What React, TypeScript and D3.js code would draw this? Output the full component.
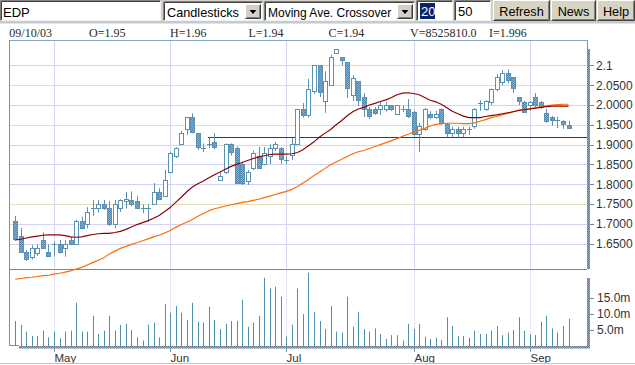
import React from "react";
import * as d3 from "d3";

// ---------------- DATA ----------------
const opens = [1.708,1.669,1.628,1.617,1.627,1.659,1.630,1.645,1.648,1.638,
 1.659,1.648,1.708,1.699,1.736,1.739,1.749,1.739,1.699,1.739,
 1.758,1.760,1.758,1.739,1.739,1.749,1.780,1.770,1.830,1.870,
 1.901,1.939,1.969,1.929,1.890,1.899,1.907,1.811,1.830,1.901,
 1.892,1.850,1.808,1.840,1.871,1.850,1.871,1.891,1.891,1.861,
 1.873,1.901,1.989,1.974,2.035,2.100,2.010,2.050,2.131,2.121,
 2.109,2.026,2.060,2.020,1.989,1.989,1.989,1.991,1.999,1.978,
 1.990,1.989,1.982,1.928,1.940,1.977,1.970,1.989,1.952,1.929,
 1.939,1.929,1.938,1.947,2.003,1.989,2.008,2.040,2.059,2.080,
 2.070,2.019,2.008,2.000,2.019,2.008,1.980,1.970,1.961,1.960,
 1.950];
const highs = [1.720,1.689,1.634,1.646,1.648,1.678,1.648,1.655,1.659,1.659,
 1.667,1.710,1.718,1.742,1.760,1.760,1.760,1.757,1.760,1.762,
 1.780,1.782,1.770,1.749,1.749,1.803,1.790,1.836,1.882,1.893,
 1.934,1.970,1.979,1.929,1.903,1.918,1.929,1.830,1.903,1.903,
 1.895,1.855,1.836,1.885,1.894,1.894,1.901,1.907,1.894,1.870,
 1.916,1.990,2.005,2.066,2.100,2.100,2.085,2.127,2.141,2.121,
 2.109,2.075,2.060,2.030,1.995,1.995,2.007,2.007,2.000,2.000,
 1.998,2.015,1.985,1.955,1.992,1.985,1.985,1.992,1.955,1.945,
 1.945,1.945,1.945,1.992,2.012,2.012,2.042,2.078,2.088,2.090,
 2.070,2.020,2.010,2.010,2.030,2.010,1.990,1.972,1.970,1.962,
 1.960];
const lows = [1.657,1.628,1.606,1.610,1.619,1.637,1.618,1.618,1.625,1.617,
 1.646,1.648,1.686,1.689,1.720,1.728,1.735,1.694,1.689,1.730,
 1.739,1.745,1.739,1.727,1.705,1.749,1.760,1.770,1.828,1.866,
 1.899,1.925,1.928,1.887,1.881,1.891,1.888,1.811,1.826,1.872,
 1.800,1.798,1.798,1.835,1.840,1.848,1.851,1.884,1.851,1.851,
 1.861,1.899,1.968,1.968,2.028,2.020,1.980,2.048,2.129,2.100,
 2.018,2.010,1.998,1.970,1.965,1.975,1.975,1.983,1.985,1.975,
 1.982,1.967,1.920,1.881,1.935,1.965,1.965,1.950,1.918,1.918,
 1.918,1.918,1.925,1.940,1.985,1.985,2.000,2.035,2.050,2.055,
 2.030,2.000,1.980,1.985,1.995,1.990,1.955,1.948,1.942,1.940,
 1.940];
const closes = [1.661,1.630,1.610,1.638,1.638,1.640,1.619,1.648,1.630,1.648,
 1.648,1.708,1.689,1.729,1.739,1.749,1.741,1.699,1.749,1.760,
 1.762,1.750,1.741,1.740,1.741,1.780,1.762,1.811,1.880,1.891,
 1.929,1.969,1.931,1.893,1.891,1.901,1.893,1.821,1.901,1.882,
 1.802,1.802,1.830,1.880,1.842,1.880,1.891,1.901,1.863,1.862,
 1.902,1.989,1.974,2.040,2.100,2.033,2.060,2.121,2.141,2.113,
 2.043,2.068,2.012,1.991,1.972,1.981,1.999,1.999,1.991,1.999,
 1.991,1.972,1.928,1.948,1.989,1.970,1.977,1.954,1.930,1.939,
 1.929,1.939,1.939,1.989,2.005,2.010,2.040,2.070,2.080,2.063,
 2.042,2.010,1.983,2.008,2.000,1.994,1.960,1.962,1.960,1.952,
 1.941];
// volumes in millions
const volumes = [7.8,6.6,4.5,3.1,3.1,4.8,2.7,4.5,2.4,4.5,
 4.8,13.5,4.5,4.5,9.4,3.75,4.8,9.4,4.8,6.6,
 6.9,5.0,2.7,1.7,6.6,7.3,2.7,13.1,10.4,12.5,
 10.4,8.1,13.5,7.6,7.3,12.3,8.1,5.3,6.9,7.8,
 7.8,14.4,6.0,7.3,9.4,21.3,18.0,18.5,15.4,2.9,
 6.6,18.0,10.0,22.9,10.6,7.8,5.3,12.5,4.5,4.2,
 15.4,6.0,10.7,5.3,4.5,5.5,3.75,2.2,3.4,3.4,
 1.7,6.9,5.3,6.9,2.9,2.2,2.6,1.9,9.0,6.25,
 3.1,3.1,2.6,4.8,3.75,3.75,4.8,6.25,3.4,4.2,
 5.0,9.0,4.7,3.75,3.4,7.6,9.4,5.5,4.2,6.25,
 8.5];
const ma20 = [1.659,1.661,1.664,1.667,1.669,1.671,1.672,1.672,1.672,1.670,
 1.667,1.666,1.667,1.670,1.673,1.675,1.676,1.676,1.678,1.681,
 1.686,1.692,1.698,1.703,1.708,1.714,1.721,1.731,1.741,1.754,
 1.767,1.781,1.793,1.801,1.808,1.816,1.824,1.831,1.838,1.845,
 1.850,1.855,1.860,1.865,1.869,1.872,1.875,1.876,1.876,1.876,
 1.877,1.880,1.887,1.897,1.907,1.919,1.929,1.938,1.950,1.961,
 1.973,1.983,1.990,1.994,2.000,2.004,2.009,2.013,2.019,2.026,
 2.030,2.031,2.029,2.026,2.019,2.012,2.008,2.002,1.993,1.984,
 1.978,1.972,1.968,1.968,1.968,1.971,1.973,1.975,1.978,1.980,
 1.983,1.986,1.988,1.990,1.992,1.994,1.996,1.997,1.997,1.997,
 1.997];
const ma50 = [1.560,1.562,1.564,1.565,1.567,1.569,1.570,1.573,1.575,1.578,
 1.581,1.586,1.590,1.596,1.602,1.608,1.614,1.624,1.631,1.638,
 1.643,1.648,1.652,1.657,1.662,1.667,1.671,1.677,1.683,1.691,
 1.698,1.704,1.711,1.719,1.726,1.733,1.738,1.741,1.745,1.748,
 1.751,1.754,1.756,1.759,1.762,1.766,1.770,1.774,1.778,1.782,
 1.787,1.794,1.803,1.812,1.822,1.831,1.840,1.849,1.856,1.863,
 1.870,1.877,1.882,1.885,1.890,1.895,1.900,1.905,1.910,1.915,
 1.921,1.926,1.931,1.936,1.941,1.947,1.951,1.953,1.954,1.954,
 1.954,1.953,1.953,1.955,1.959,1.963,1.968,1.971,1.975,1.979,
 1.983,1.987,1.989,1.991,1.993,1.996,1.998,2.000,2.001,2.002,
 2.002];

const priceTicks = [2.1, 2.05, 2.0, 1.95, 1.9, 1.85, 1.8, 1.75, 1.7, 1.65];
const priceTickLabels = ["2.1", "2.0500", "2.0000", "1.9500", "1.9000", "1.8500", "1.8000", "1.7500", "1.7000", "1.6500"];
const volTicks = [15, 10, 5];
const volTickLabels = ["15.0m", "10.0m", "5.0m"];
const monthLabels = ["May", "Jun", "Jul", "Aug", "Sep"];
const monthStartIdx = [7, 28, 49, 72, 93];
const supportLevel = 1.918;
const supportStartIdx = 35;

const symbol = "EDP";
const chartType = "Candlesticks";
const studyType = "Moving Ave. Crossover";
const period1 = "20";
const period2 = "50";
const buttonLabels = ["Refresh", "News", "Help"];
const infoTexts = ["09/10/03", "O=1.95", "H=1.96", "L=1.94", "C=1.94", "V=8525810.0", "I=1.996"];

// ---------------- STYLE ----------------
const CANDLE = "#5b91b2";
const RED = "#8e0000";
const ORANGE = "#ff6a00";
const SANS = "Arial, 'Liberation Sans', sans-serif";
const SERIF = "'Times New Roman', 'Liberation Serif', serif";

function Sunken({ x, y, w, h }: { x: number; y: number; w: number; h: number }) {
  return (
    <g>
      <rect x={x} y={y} width={w} height={h} fill="#fff" />
      <path d={`M${x + 0.5},${y + h} V${y + 0.5} H${x + w}`} stroke="#808080" fill="none" />
      <path d={`M${x + 1.5},${y + h - 1} V${y + 1.5} H${x + w - 1}`} stroke="#404040" fill="none" />
      <path d={`M${x + 0.5},${y + h - 0.5} H${x + w - 0.5} V${y + 0.5}`} stroke="#f0f0f0" fill="none" />
    </g>
  );
}

function Raised({ x, y, w, h, fill }: { x: number; y: number; w: number; h: number; fill: string }) {
  return (
    <g>
      <rect x={x} y={y} width={w} height={h} fill={fill} />
      <path d={`M${x + 0.5},${y + h - 1} V${y + 0.5} H${x + w - 1}`} stroke="#ffffff" fill="none" />
      <path d={`M${x + 0.5},${y + h - 0.5} H${x + w - 0.5} V${y + 0.5}`} stroke="#404040" fill="none" />
      <path d={`M${x + 1.5},${y + h - 1.5} H${x + w - 1.5} V${y + 1.5}`} stroke="#808080" fill="none" />
    </g>
  );
}

function DropButton({ x, y }: { x: number; y: number }) {
  return (
    <g>
      <Raised x={x} y={y} w={16} h={15} fill="#d4d0c8" />
      <path d={`M${x + 4.5},${y + 6} L${x + 11.5},${y + 6} L${x + 8},${y + 10} Z`} fill="#000" />
    </g>
  );
}

export default function App() {
  const n = closes.length;
  const x = d3.scaleLinear().domain([0, n - 1]).range([15.3, 568.5]);
  const y = d3.scaleLinear().domain([1.65, 2.1]).range([243.6, 65.4]);
  const yv = d3.scaleLinear().domain([0, 15]).range([346, 298]);

  const line = d3
    .line<number>()
    .x((_, i) => x(i))
    .y((d) => y(d))
    .curve(d3.curveLinear);

  const gridColor = (i: number) => (i === 1 || i === 3 || i === 7 ? "#e2e2b8" : "#d2d2f2");

  return (
    <svg
      width={635}
      height={365}
      style={{ position: "absolute", left: 0, top: 0, display: "block" }}
      fontFamily={SANS}
    >
      <defs>
        <pattern id="dith" width="2" height="2" patternUnits="userSpaceOnUse">
          <rect width="2" height="2" fill="#86aed6" />
          <rect width="1" height="1" fill="#5288b0" />
          <rect x="1" y="1" width="1" height="1" fill="#5288b0" />
        </pattern>
        <pattern id="axdith" width="2" height="2" patternUnits="userSpaceOnUse">
          <rect width="2" height="2" fill="#a3a8ae" />
          <rect width="1" height="1" fill="#5f7488" />
          <rect x="1" y="1" width="1" height="1" fill="#6e7f8e" />
        </pattern>
      </defs>
      <rect x={0} y={0} width={635} height={365} fill="#ffffff" />

      {/* toolbar */}
      <rect x={0} y={0} width={635} height={22} fill="#d4d0c8" />
      <rect x={0} y={21.5} width={635} height={2} fill="#c4c8d0" />
      <Sunken x={0} y={0} w={161} h={21} />
      <text x={3} y={16.5} fontSize={13} fill="#000">{symbol}</text>

      <Sunken x={163} y={1} w={100} h={20} />
      <text x={167} y={16.5} fontSize={12.7} fill="#000">{chartType}</text>
      <DropButton x={245} y={4} />

      <Sunken x={264} y={1} w={151} h={20} />
      <text x={268} y={16.5} fontSize={12} fill="#000">{studyType}</text>
      <DropButton x={397} y={4} />

      <Sunken x={416} y={0} w={37} h={21} />
      <rect x={420} y={3} width={15} height={16} fill="#0a246a" />
      <text x={421} y={16} fontSize={13} fill="#ffffff">{period1}</text>
      <Sunken x={454} y={0} w={37} h={21} />
      <text x={458} y={16} fontSize={13} fill="#000">{period2}</text>

      {buttonLabels.map((b, i) => {
        const bx = [493, 551, 597][i];
        const bw = [57, 45, 38][i];
        return (
          <g key={b}>
            <Raised x={bx} y={0} w={bw} h={21} fill="#d8d4c4" />
            <text x={bx + bw / 2} y={15.5} fontSize={12.7} textAnchor="middle" fill="#000">{b}</text>
          </g>
        );
      })}

      {/* info row */}
      {infoTexts.map((t, i) => (
        <text key={t} x={[9.3, 89, 170, 248.5, 328.5, 410, 489][i]} y={36.5} fontSize={12} fontFamily={SERIF} fill="#2a2a2a">
          {t}
        </text>
      ))}

      {/* price gridlines */}
      {priceTicks.map((p, i) => (
        <line key={"g" + i} x1={10} x2={587} y1={Math.round(y(p)) + 0.5} y2={Math.round(y(p)) + 0.5} stroke={gridColor(i)} />
      ))}
      {/* month gridlines */}
      {monthStartIdx.map((idx, i) => {
        const gx = Math.round(x(idx)) + 0.5;
        return (
          <g key={"m" + i}>
            <line x1={gx} x2={gx} y1={41} y2={268} stroke="#d4d4ee" />
            <line x1={gx} x2={gx} y1={270} y2={345} stroke="#dcdcee" strokeDasharray="3,1" />
            <line x1={gx} x2={gx} y1={348} y2={352} stroke="#7d98b0" />
            <text x={gx} y={361.5} fontSize={11.5} fill="#333">{monthLabels[i]}</text>
          </g>
        );
      })}

      {/* frames */}
      <line x1={9.5} x2={587.5} y1={40.5} y2={40.5} stroke="#86a7c0" />
      <line x1={9.5} x2={9.5} y1={40} y2={346} stroke="#6b97b5" />
      <line x1={9.5} x2={587} y1={269.5} y2={269.5} stroke="#5f8fae" />
      <line x1={587.5} x2={587.5} y1={40} y2={49} stroke="#6b97b5" />
      <rect x={587} y={49} width={3} height={220} fill="url(#axdith)" />
      <rect x={587} y={278} width={3} height={70} fill="url(#axdith)" />
      <rect x={19} y={346} width={571} height={2.5} fill="url(#axdith)" />
      <line x1={9.5} x2={19} y1={345.5} y2={345.5} stroke="#6b97b5" />
      <line x1={0} x2={635} y1={363.5} y2={363.5} stroke="#b4c6dc" />

      {/* price axis labels */}
      {priceTicks.map((p, i) => (
        <g key={"t" + i}>
          <line x1={590} x2={594} y1={Math.round(y(p)) + 0.5} y2={Math.round(y(p)) + 0.5} stroke="#6b8aa6" />
          <text x={596} y={y(p) + 4.3} fontSize={12} fill="#333">{priceTickLabels[i]}</text>
        </g>
      ))}
      {/* volume axis labels */}
      {volTicks.map((v, i) => (
        <g key={"v" + i}>
          <line x1={590} x2={594} y1={Math.round(yv(v)) + 0.5} y2={Math.round(yv(v)) + 0.5} stroke="#6b8aa6" />
          <text x={597} y={yv(v) + 4.3} fontSize={12} fill="#333">{volTickLabels[i]}</text>
        </g>
      ))}

      {/* volume bars */}
      {volumes.map((v, i) => {
        const vx = Math.round(x(i)) + 0.5;
        return <line key={"vb" + i} x1={vx} x2={vx} y1={346} y2={yv(v)} stroke="#4f8fae" />;
      })}

      {/* support line */}
      <line
        x1={x(supportStartIdx) - 1}
        x2={587}
        y1={Math.round(y(supportLevel)) + 0.5}
        y2={Math.round(y(supportLevel)) + 0.5}
        stroke="#3c3c3c"
        strokeWidth={1.2}
      />

      {/* candles */}
      {closes.map((c, i) => {
        const o = opens[i];
        const r = Math.round(x(i));
        const top = y(Math.max(o, c));
        const bot = y(Math.min(o, c));
        const h = bot - top;
        const up = c >= o;
        return (
          <g key={"c" + i}>
            <line x1={r + 0.5} x2={r + 0.5} y1={y(highs[i])} y2={y(lows[i])} stroke={CANDLE} />
            {h < 1.5 ? (
              <line x1={r - 2} x2={r + 3} y1={Math.round(top) + 0.5} y2={Math.round(top) + 0.5} stroke={CANDLE} />
            ) : (
              <rect
                x={r - 1.5}
                y={Math.round(top) + 0.5}
                width={4}
                height={Math.max(1, Math.round(bot) - Math.round(top))}
                fill={up ? "#ffffff" : "url(#dith)"}
                stroke={CANDLE}
              />
            )}
          </g>
        );
      })}

      {/* moving averages */}
      <path d={line(ma50) || ""} fill="none" stroke={ORANGE} strokeWidth={1.15} />
      <path d={line(ma20) || ""} fill="none" stroke={RED} strokeWidth={1.15} />
    </svg>
  );
}
